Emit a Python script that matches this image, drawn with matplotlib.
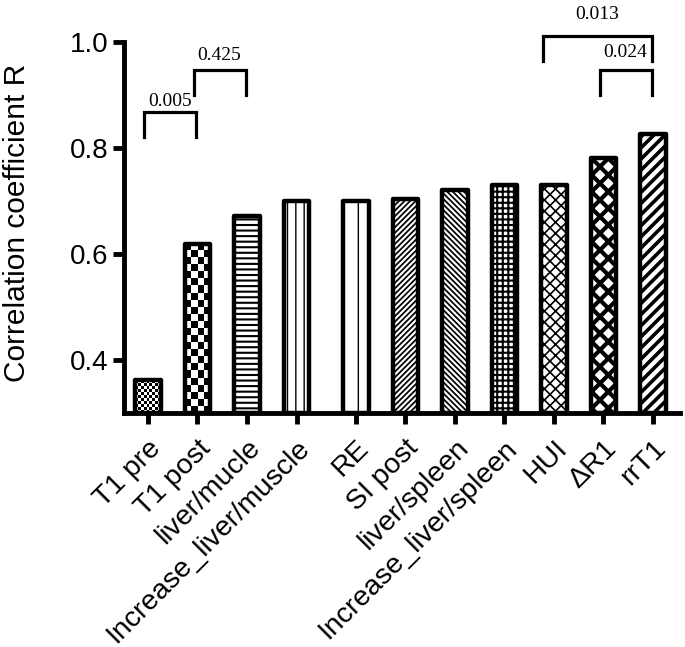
import numpy as np
import matplotlib
matplotlib.use('Agg')
import matplotlib.pyplot as plt

categories = ['T1 pre', 'T1 post', 'liver/mucle', 'Increase_liver/muscle', 'RE',
              'SI post', 'liver/spleen', 'Increase_liver/spleen', 'HUI', '\u0394R1', 'rrT1']
r_values = [0.362, 0.620, 0.672, 0.700, 0.700, 0.705, 0.722, 0.730, 0.731, 0.781, 0.826]

# comparisons: (left bar, right bar, p value)
comparisons = [(0, 1, '0.005'), (1, 2, '0.425'), (9, 10, '0.024'), (8, 10, '0.013')]
bracket_tops = [0.868, 0.948, 0.948, 1.011]
label_heights = [0.888, 0.976, 0.980, 1.053]

# fill styles per bar: ('checker', cell px) or (hatch, hatch linewidth)
fills = [('checker', 3), ('checker', 7), ('---', 1.5), ('||', 1.0), ('|', 1.0),
         ('//////', 1.25), ('\\\\\\\\\\\\', 1.25), ('+++', 1.5), ('xxx', 1.2), ('xx', 3.0),
         ('///', 2.6)]

pos = np.arange(len(categories), dtype=float)
pos[4:] += 0.2   # gap between the two groups

fig = plt.figure(figsize=(6.85, 6.47), dpi=100)
ax = fig.add_axes([124 / 685, 1 - 413 / 647, 556 / 685, 370.7 / 647])
ax.set_xlim(pos[0] - 0.484, pos[-1] + 0.545)
ax.set_ylim(0.3, 1.0)

bars = []
for i, (p, v) in enumerate(zip(pos, r_values)):
    kind, val = fills[i]
    if kind == 'checker':
        b = ax.bar(p, v - 0.3, bottom=0.3, width=0.52, facecolor='none',
                   edgecolor='black', linewidth=3.2, zorder=1)[0]
    else:
        with plt.rc_context({'hatch.linewidth': val}):
            b = ax.bar(p, v - 0.3, bottom=0.3, width=0.52, facecolor='white',
                       edgecolor='black', linewidth=3.2, hatch=kind, zorder=1)[0]
        if hasattr(b, 'set_hatch_linewidth'):
            b.set_hatch_linewidth(val)
    b.set_joinstyle('round')
    bars.append(b)

# checkerboard fills
for i, b in enumerate(bars):
    kind, cell = fills[i]
    if kind != 'checker':
        continue
    x0, y0, w, h = b.get_x(), b.get_y(), b.get_width(), b.get_height()
    (px0, py0), (px1, py1) = ax.transData.transform([(x0, y0), (x0 + w, y0 + h)])
    nx = max(1, int(round((px1 - px0) / cell)))
    ny = max(1, int(round((py1 - py0) / cell)))
    grid = np.add.outer(np.arange(ny), np.arange(nx)) % 2
    im = ax.imshow(grid, cmap='gray', extent=(x0, x0 + w, y0, y0 + h), aspect='auto',
                   interpolation='nearest', zorder=0.5)
    im.set_clip_path(b)

ax.set_xlim(pos[0] - 0.484, pos[-1] + 0.545)
ax.set_ylim(0.3, 1.0)

# significance brackets
for (a, b_, txt), top, ty in zip(comparisons, bracket_tops, label_heights):
    xl = pos[a] - (0.22 if txt == '0.013' else 0.08)
    xr = pos[b_] - 0.03
    leg = 0.047
    ax.plot([xl, xl, xr, xr], [top - leg, top, top, top - leg], color='black',
            linewidth=2.3, clip_on=False, solid_joinstyle='miter')
    ax.text((xl + xr) / 2, ty, txt, ha='center', va='center',
            fontsize=14, family='Liberation Serif', clip_on=False)

for s in ['top', 'right']:
    ax.spines[s].set_visible(False)
for s in ['left', 'bottom']:
    ax.spines[s].set_linewidth(3.5)

ax.set_yticks([0.4, 0.6, 0.8, 1.0])
ax.set_yticklabels(['0.4', '0.6', '0.8', '1.0'], fontsize=20, family='Liberation Sans')
ax.set_xticks(pos)
ax.set_xticklabels(categories, rotation=45, ha='right', rotation_mode='anchor',
                   fontsize=20.5, family='Liberation Sans')
ax.tick_params(axis='both', direction='out', width=3.5, length=8)
ax.tick_params(axis='x', pad=8)
ax.tick_params(axis='y', pad=3)

ax.set_ylabel('Correlation coefficient R', fontsize=21.5, family='Liberation Sans')
ax.yaxis.set_label_coords(-0.168, 0.512)

fig.savefig('out.png', dpi=100)
